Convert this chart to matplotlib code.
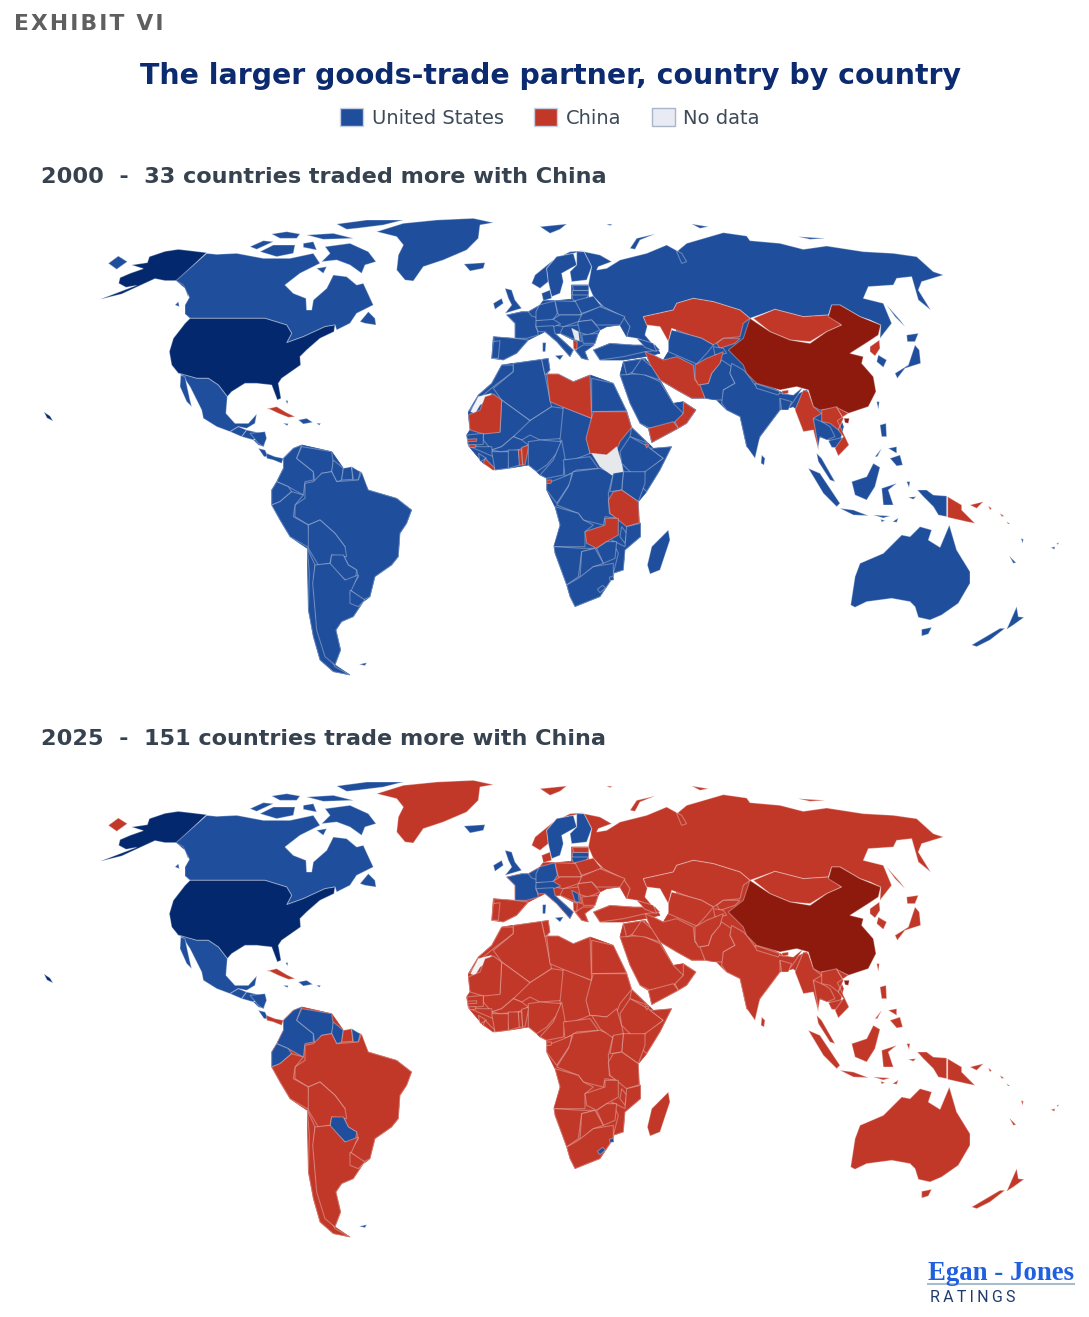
import matplotlib
matplotlib.use("Agg")
import matplotlib.pyplot as plt
from matplotlib.colors import to_rgba
from matplotlib.patches import Patch

# colours
BLUE = "#1f4e9c"
RED = "#c13829"
NAVY = "#03286e"
DARK_RED = "#8e1a0e"
NO_DATA = "#e6e8ec"
SAHARA = "#f3f4f6"

YEARS = ["2000", "2025"]
SUBTITLES = ["2000  -  33 countries traded more with China",
             "2025  -  151 countries trade more with China"]
LEGEND_LABELS = ["United States", "China", "No data"]

HOME_US = ["usa", "alaska", "hawaii"]
HOME_CHINA = ["china", "hainan"]
NO_DATA_2000 = ["south_sudan", "kosovo"]
NO_LAND = ["western_sahara"]

# 2000: everybody not listed here traded more with the US
CHINA_2000 = ["cuba", "kazakhstan", "kyrgyzstan", "mongolia", "iran", "afghanistan",
              "yemen", "oman", "myanmar", "laos", "vietnam", "north_korea", "bhutan",
              "libya", "sudan", "mauritania", "tanzania", "zambia", "gambia",
              "guinea_bissau", "liberia", "togo", "benin", "eq_guinea", "djibouti",
              "albania", "png", "new_britain", "solomon"]
# 2025: everybody not listed here trades more with China
US_2025 = ["canada", "mexico", "guatemala", "honduras", "nicaragua", "costa_rica", "hispaniola",
           "bahamas", "iceland", "uk", "ireland", "france", "benelux", "germany",
           "austria", "italy", "sweden", "finland", "latvia", "lithuania", "kosovo",
           "colombia", "venezuela", "ecuador", "guyana", "french_guiana", "paraguay",
           "lesotho", "eswatini", "falkland"]
# the colour most of the land had that year, shows through between country outlines
MAIN_COLOUR = {"2000": BLUE, "2025": RED}


def crop(x0, y0, shapes):
    return {k: [(x0 + x / 3, y0 + y / 3) for x, y in v] for k, v in shapes.items()}


land_africa = crop(450, 350, {
    "land": [(55, 185), (85, 135), (125, 100), (155, 45), (190, 40), (275, 28), (295, 25), (300, 60),
             (290, 72), (325, 72), (370, 95), (420, 75), (490, 100), (530, 183), (545, 232), (595, 280),
             (610, 295), (665, 290), (630, 360), (590, 425), (565, 455), (568, 518), (572, 520), (572, 560),
             (525, 600), (520, 660), (490, 670), (490, 680), (450, 740), (375, 770), (360, 740), (350, 705),
             (315, 610), (312, 590), (330, 525), (315, 470), (290, 420), (290, 385), (270, 375), (260, 365),
             (235, 345), (175, 355), (135, 360), (100, 340), (55, 287), (50, 255), (60, 240), (55, 195)],
})
land_eurasia = crop(460, 210, {
    "europe": [(140, 315), (185, 305), (205, 305), (240, 285), (250, 272), (285, 272), (335, 268), (335, 225),
               (385, 225), (385, 260), (430, 290), (490, 320), (510, 350), (500, 380), (480, 345), (440, 350),
               (420, 360), (415, 370), (405, 400), (375, 425), (385, 450), (365, 445), (345, 420), (340, 390),
               (300, 370), (285, 370), (340, 420), (330, 440), (290, 395), (255, 365), (235, 375), (205, 390),
               (170, 430), (130, 450), (95, 445), (100, 380), (165, 385), (165, 340)],
    "asia": [(625, 425), (650, 360), (700, 300), (870, 325), (860, 490), (960, 545), (1000, 560), (1040, 540),
             (1060, 590), (1130, 595), (1150, 650), (1140, 690), (1110, 690), (1075, 680), (1060, 640),
             (1000, 590), (960, 600), (900, 680), (880, 720), (860, 710), (840, 620), (800, 600), (770, 570),
             (735, 565), (695, 565), (650, 540), (600, 510), (575, 475), (555, 425), (580, 435), (610, 450)],
    "arabia": [(480, 495), (490, 455), (555, 445), (575, 470), (600, 510), (640, 580), (670, 575), (708, 600),
               (680, 640), (655, 655), (575, 698), (565, 655), (540, 640), (510, 580)],
    "turkey": [(400, 420), (450, 400), (520, 405), (585, 405), (600, 430), (555, 440), (490, 450), (420, 450)],
})
land_south_america = crop(250, 430, {
    "land": [(100, 85), (130, 55), (155, 45), (245, 65), (280, 115), (330, 125), (355, 180), (440, 205),
             (485, 240), (470, 280), (450, 310), (445, 380), (425, 405), (375, 440), (360, 500), (340, 515),
             (310, 560), (275, 575), (258, 600), (272, 660), (255, 705), (300, 735), (250, 725), (210, 690),
             (190, 620), (175, 540), (172, 355), (120, 320), (90, 270), (65, 225), (65, 180), (80, 155), (100, 115)],
})
LAND = [land_africa, land_eurasia, land_south_america]

north_america = crop(90, 210, {
    "russia|chukotka": [(55, 160), (85, 138), (112, 155), (80, 178)],
    "alaska": [(350, 128), (300, 122), (265, 118), (225, 124), (178, 140), (172, 158), (125, 165),
               (160, 176), (120, 190), (90, 203), (86, 220), (108, 232), (140, 226), (30, 268),
               (95, 252), (195, 206), (225, 212), (258, 212), (285, 235), (295, 262), (292, 228), (262, 212)],
    "canada": [(350, 130), (258, 212), (280, 225), (298, 262), (285, 285), (285, 312), (300, 325),
               (525, 325), (590, 345), (605, 370), (590, 398), (640, 380), (705, 350), (735, 345),
               (740, 360), (780, 340), (800, 310), (850, 285), (820, 220), (800, 225), (770, 200),
               (730, 195), (710, 235), (670, 270), (665, 300), (650, 300), (648, 265), (610, 250),
               (585, 225), (630, 190), (690, 160), (670, 130), (600, 145), (520, 145), (440, 130), (380, 133)],
    "canada|baffin": [(705, 110), (780, 100), (835, 125), (858, 155), (825, 165), (815, 190),
                      (780, 165), (740, 150), (695, 155), (720, 130)],
    "canada|victoria": [(510, 125), (550, 105), (615, 105), (610, 130), (560, 140)],
    "canada|banks": [(480, 110), (520, 92), (550, 95), (500, 118)],
    "canada|ellesmere": [(740, 42), (830, 30), (940, 30), (880, 45), (800, 55), (770, 58)],
    "canada|devon": [(650, 75), (730, 70), (790, 85), (700, 88)],
    "canada|melville": [(545, 72), (590, 65), (630, 72), (620, 85), (570, 85)],
    "canada|somerset": [(640, 100), (670, 95), (680, 120), (640, 112)],
    "canada|south": [(680, 175), (710, 170), (700, 190)],
    "canada|vancouver": [(255, 285), (265, 275), (268, 290)],
    "canada|newfoundland": [(810, 335), (835, 305), (855, 325), (858, 345), (825, 340)],
    "greenland": [(860, 65), (940, 40), (1040, 30), (1150, 25), (1210, 38), (1170, 45), (1165, 85),
                  (1130, 120), (1060, 150), (1000, 170), (970, 213), (945, 210), (920, 180),
                  (925, 135), (940, 105), (920, 80)],
    "iceland": [(1122, 162), (1185, 158), (1180, 175), (1140, 183)],
    "usa": [(300, 325), (525, 325), (590, 345), (605, 370), (590, 398), (640, 380), (705, 350),
            (735, 345), (732, 365), (690, 385), (650, 420), (630, 440), (632, 465), (575, 505),
            (565, 520), (573, 565), (562, 570), (545, 525), (500, 520), (465, 520), (425, 545),
            (412, 560), (385, 525), (355, 505), (320, 505), (265, 490), (245, 465), (238, 425),
            (250, 385), (285, 340)],
    "mexico": [(268, 490), (320, 505), (355, 505), (385, 525), (412, 560), (408, 610), (435, 640),
               (475, 640), (500, 612), (495, 640), (470, 655), (445, 650), (420, 665), (380, 650),
               (340, 625), (335, 600), (300, 530), (280, 500)],
    "mexico|baja": [(272, 495), (285, 500), (300, 570), (305, 590), (290, 575), (270, 530)],
    "guatemala": [(420, 665), (445, 650), (470, 660), (455, 680)],
    "honduras": [(455, 680), (470, 660), (515, 670), (490, 690)],
    "nicaragua": [(490, 690), (525, 680), (522, 710), (505, 705)],
    "cuba": [(530, 597), (560, 590), (590, 608), (615, 620), (595, 622), (565, 610), (540, 598)],
    "hispaniola": [(625, 630), (650, 625), (668, 637), (640, 642)],
    "hispaniola|jamaica": [(580, 640), (595, 641), (592, 647)],
    "hispaniola|puerto_rico": [(680, 640), (692, 640), (688, 646)],
    "bahamas": [(587, 572), (594, 572), (592, 582)],
})

hawaii = {"hawaii": [(44, 412), (50, 416), (53, 421), (47, 418)]}

europe_asia = crop(460, 210, {
    "norway|svalbard": [(240, 50), (320, 42), (300, 58), (270, 70)],
    "russia|franz_josef": [(440, 42), (457, 43), (450, 47)],
    "russia|novaya": [(510, 115), (530, 85), (585, 72), (540, 90), (525, 118)],
    "russia|severnaya": [(695, 42), (745, 50), (720, 55)],
    "russia|siberian": [(1015, 80), (1095, 85), (1050, 88)],
    "russia|sakhalin": [(1280, 285), (1320, 330), (1335, 350), (1305, 320)],
    "russia": [(372, 125), (420, 135), (455, 155), (415, 170), (410, 180), (440, 175), (480, 150),
               (560, 130), (620, 105), (665, 130), (680, 155), (665, 160), (650, 125), (680, 100),
               (790, 68), (860, 78), (870, 92), (960, 100), (1030, 118), (1100, 108), (1210, 125),
               (1300, 130), (1370, 140), (1420, 185), (1450, 195), (1385, 215), (1375, 240),
               (1412, 300), (1375, 270), (1355, 200), (1310, 205), (1300, 225), (1225, 230),
               (1210, 265), (1270, 280), (1295, 340), (1260, 385), (1262, 345), (1230, 330),
               (1200, 320), (1140, 285), (1115, 285), (1105, 315), (1030, 320), (945, 298),
               (870, 325), (840, 300), (760, 275), (700, 265), (650, 280), (640, 300), (550, 320),
               (562, 348), (555, 375), (580, 405), (530, 385), (500, 380), (510, 350), (490, 320),
               (430, 290), (400, 260), (385, 225), (395, 170)],
    "norway": [(370, 122), (330, 125), (280, 150), (225, 195), (215, 220), (240, 235), (265, 215),
               (260, 175), (290, 140), (340, 130)],
    "sweden": [(340, 130), (290, 140), (260, 175), (265, 215), (275, 260), (300, 250), (310, 215),
               (305, 190), (350, 165)],
    "finland": [(350, 125), (372, 125), (395, 170), (380, 210), (335, 215), (330, 185), (350, 165)],
    "denmark": [(245, 250), (270, 240), (275, 265), (250, 272)],
    "uk": [(135, 235), (155, 240), (165, 270), (185, 295), (135, 310), (155, 285), (145, 265)],
    "ireland": [(100, 280), (125, 265), (130, 280), (105, 298)],
    "spain": [(100, 380), (165, 385), (205, 390), (170, 430), (130, 450), (100, 445), (105, 410)],
    "portugal": [(100, 395), (120, 392), (115, 445), (95, 445)],
    "france": [(140, 315), (185, 305), (207, 305), (232, 322), (228, 345), (235, 375), (200, 385), (165, 385), (165, 340)],
    "benelux": [(205, 305), (240, 285), (238, 325), (215, 318)],
    "germany": [(238, 285), (285, 272), (292, 310), (278, 332), (228, 332), (228, 305)],
    "poland": [(285, 272), (355, 275), (365, 315), (295, 315)],
    "estonia": [(335, 225), (385, 225), (385, 240), (340, 240)],
    "latvia": [(335, 240), (385, 240), (385, 255), (335, 255)],
    "lithuania": [(335, 255), (385, 255), (375, 272), (340, 272)],
    "belarus": [(345, 272), (400, 258), (425, 290), (365, 310)],
    "ukraine": [(360, 315), (420, 290), (495, 320), (480, 345), (410, 345), (395, 330), (355, 335)],
    "czech_hungary": [(275, 330), (300, 315), (365, 315), (355, 335), (310, 350), (285, 345)],
    "austria": [(228, 332), (280, 328), (302, 342), (270, 354), (228, 354)],
    "italy": [(228, 350), (280, 347), (285, 370), (340, 420), (330, 440), (290, 395), (255, 365), (235, 365)],
    "italy|sicily": [(285, 437), (310, 435), (300, 450)],
    "italy|sardinia": [(248, 398), (258, 398), (256, 425), (248, 425)],
    "romania": [(355, 335), (395, 330), (420, 360), (385, 375), (350, 365)],
    "bulgaria": [(365, 375), (415, 370), (405, 400), (370, 400)],
    "serbia": [(310, 350), (355, 345), (365, 395), (335, 385), (300, 370)],
    "kosovo": [(335, 355), (355, 365), (358, 392), (345, 388)],
    "greece": [(345, 420), (370, 405), (405, 405), (375, 425), (385, 450), (365, 445)],
    "albania": [(340, 390), (352, 395), (350, 420), (340, 415)],
    "turkey": [(400, 420), (450, 400), (520, 405), (585, 405), (600, 420), (555, 425), (490, 440), (420, 450)],
    "caucasus": [(530, 385), (580, 400), (590, 425), (555, 412)],
    "kazakhstan": [(550, 320), (640, 300), (650, 280), (700, 265), (760, 275), (840, 300), (870, 325),
                   (850, 340), (840, 380), (790, 385), (760, 405), (725, 385), (690, 375), (635, 355),
                   (625, 395), (600, 350), (560, 345)],
    "uzbekistan": [(635, 360), (690, 375), (725, 385), (760, 405), (740, 430), (710, 462), (660, 440),
                   (625, 425), (625, 395)],
    "kyrgyzstan": [(770, 400), (790, 385), (840, 385), (825, 400), (780, 415)],
    "tajikistan": [(760, 410), (790, 415), (800, 430), (765, 435)],
    "mongolia": [(880, 325), (945, 298), (1030, 320), (1105, 315), (1145, 345), (1100, 365),
                 (1050, 395), (990, 390), (930, 365)],
    "north_korea": [(1230, 410), (1258, 390), (1260, 415), (1245, 438), (1230, 425)],
    "south_korea": [(1255, 435), (1280, 450), (1270, 472), (1250, 455)],
    "japan": [(1305, 490), (1345, 465), (1365, 405), (1378, 420), (1382, 460), (1335, 475), (1312, 505)],
    "japan|hokkaido": [(1340, 375), (1375, 370), (1365, 395), (1342, 395)],
    "taiwan": [(1250, 575), (1258, 575), (1255, 598)],
    "pakistan": [(735, 565), (715, 525), (745, 520), (755, 490), (785, 450), (815, 470), (810, 490),
                 (825, 520), (790, 540), (790, 570), (760, 570)],
    "india": [(815, 460), (850, 480), (860, 490), (885, 525), (960, 550), (1000, 555), (1030, 530),
              (1000, 575), (980, 600), (960, 565), (960, 600), (900, 680), (885, 745), (860, 710),
              (840, 620), (800, 600), (785, 580), (790, 540), (825, 520), (810, 490)],
    "nepal": [(885, 520), (960, 545), (955, 555), (890, 535)],
    "bangladesh": [(960, 565), (995, 575), (985, 600), (965, 600)],
    "sri_lanka": [(905, 735), (915, 745), (912, 765), (903, 760)],
    "china": [(805, 420), (850, 385), (870, 325), (930, 365), (990, 390), (1050, 400), (1100, 365),
              (1145, 345), (1105, 320), (1115, 285), (1140, 285), (1200, 320), (1262, 345), (1255, 375),
              (1225, 395), (1170, 430), (1210, 440), (1205, 460), (1240, 500), (1248, 545), (1225, 590),
              (1165, 610), (1130, 595), (1080, 600), (1060, 590), (1045, 540), (1010, 530), (960, 540),
              (890, 520), (860, 490), (850, 465)],
    "hainan": [(1152, 625), (1168, 625), (1165, 640), (1155, 638)],
    "bhutan": [(965, 543), (985, 540), (985, 550), (968, 552)],
    "iran": [(555, 425), (580, 435), (610, 450), (650, 440), (700, 465), (705, 510), (720, 525),
             (735, 565), (695, 565), (650, 540), (600, 510), (575, 475)],
    "afghanistan": [(705, 465), (740, 445), (790, 425), (780, 460), (755, 490), (745, 520), (715, 525), (705, 505)],
    "myanmar": [(1030, 540), (1045, 545), (1060, 590), (1085, 610), (1060, 625), (1075, 680),
                (1075, 720), (1060, 660), (1030, 665), (1005, 600)],
    "thailand": [(1060, 625), (1085, 635), (1110, 650), (1125, 680), (1100, 690), (1080, 680), (1075, 710)],
    "laos": [(1085, 600), (1130, 590), (1150, 625), (1135, 660), (1110, 640), (1085, 635)],
    "cambodia": [(1105, 692), (1150, 682), (1145, 715), (1115, 712)],
    "vietnam": [(1130, 592), (1165, 610), (1132, 632), (1167, 705), (1135, 738), (1125, 715), (1150, 680), (1135, 660), (1150, 625)],
    "saudi": [(480, 495), (545, 490), (600, 515), (640, 580), (670, 610), (660, 625), (640, 640),
              (570, 655), (540, 640), (510, 580)],
    "syria": [(490, 455), (555, 445), (540, 475), (500, 495)],
    "iraq": [(545, 445), (575, 470), (600, 510), (555, 495), (515, 490)],
    "yemen": [(565, 655), (640, 635), (655, 655), (575, 698)],
    "oman": [(670, 575), (708, 600), (680, 640), (655, 655), (645, 635), (670, 610)],
})

africa = crop(450, 350, {
    "morocco": [(55, 185), (85, 135), (125, 100), (155, 45), (190, 45), (190, 65), (130, 110), (100, 135)],
    "western_sahara": [(62, 185), (85, 140), (125, 130), (105, 155), (90, 165), (75, 190)],
    "algeria": [(190, 40), (275, 28), (285, 75), (300, 150), (305, 170), (240, 212), (155, 150), (130, 115), (190, 65)],
    "tunisia": [(275, 28), (295, 25), (300, 60), (285, 75)],
    "egypt": [(425, 85), (490, 100), (530, 183), (425, 185)],
    "mali": [(100, 250), (150, 245), (155, 150), (240, 212), (240, 240), (190, 260), (155, 290), (125, 300), (100, 270)],
    "niger": [(240, 212), (305, 170), (340, 175), (340, 265), (270, 270), (240, 255), (215, 270), (190, 260)],
    "chad": [(340, 170), (425, 205), (420, 235), (410, 265), (420, 310), (370, 330), (340, 330), (330, 270)],
    "libya": [(290, 72), (325, 72), (370, 95), (420, 75), (425, 205), (340, 172), (300, 155)],
    "mauritania": [(55, 195), (90, 180), (105, 140), (130, 132), (155, 150), (150, 247), (100, 252), (60, 240)],
    "sudan": [(430, 185), (530, 185), (545, 232), (510, 275), (500, 300), (470, 315), (420, 310), (408, 265), (420, 220)],
    "senegal": [(50, 255), (100, 250), (100, 283), (55, 287)],
    "gambia": [(52, 268), (80, 266), (80, 274), (52, 275)],
    "guinea": [(60, 290), (125, 290), (130, 320), (95, 305)],
    "guinea_bissau": [(55, 284), (78, 284), (76, 292), (60, 293)],
    "sierra_leone": [(85, 310), (110, 325), (90, 335)],
    "liberia": [(105, 325), (135, 355), (130, 362), (100, 340)],
    "ivory_coast": [(125, 305), (180, 305), (175, 355), (135, 360)],
    "burkina": [(125, 300), (155, 290), (190, 260), (215, 270), (235, 285), (205, 300), (150, 305)],
    "ghana": [(175, 300), (205, 300), (210, 345), (175, 355)],
    "togo": [(205, 300), (215, 300), (218, 345), (208, 345)],
    "benin": [(215, 292), (237, 285), (225, 345), (218, 345)],
    "nigeria": [(235, 275), (270, 270), (335, 275), (320, 310), (290, 345), (260, 365), (235, 345)],
    "cameroon": [(335, 270), (345, 325), (340, 375), (290, 385), (270, 375), (310, 330)],
    "car": [(340, 330), (420, 320), (445, 355), (380, 360), (345, 380)],
    "congo": [(290, 400), (330, 385), (365, 370), (360, 400), (320, 460), (290, 420)],
    "eq_guinea": [(290, 390), (305, 390), (303, 400), (290, 400)],
    "drc": [(370, 365), (450, 355), (490, 370), (475, 430), (478, 490), (505, 505), (465, 500), (460, 525),
            (400, 510), (385, 490), (320, 465), (355, 410)],
    "south_sudan": [(425, 310), (470, 315), (500, 290), (515, 340), (520, 365), (485, 375), (450, 350)],
    "eritrea": [(545, 232), (595, 280), (540, 260)],
    "ethiopia": [(540, 260), (595, 290), (640, 325), (590, 365), (550, 375), (515, 340), (510, 305)],
    "djibouti": [(585, 282), (597, 284), (590, 294)],
    "somalia": [(665, 290), (630, 360), (590, 425), (575, 410), (585, 365), (640, 325), (600, 295)],
    "kenya": [(520, 365), (585, 365), (585, 400), (565, 455), (515, 420)],
    "uganda": [(490, 370), (520, 365), (515, 420), (480, 425)],
    "tanzania": [(490, 425), (515, 420), (565, 455), (568, 518), (530, 530), (480, 490), (475, 450)],
    "angola": [(315, 470), (385, 490), (400, 510), (430, 525), (405, 545), (405, 590), (360, 590), (310, 590), (330, 525)],
    "zambia": [(405, 545), (465, 525), (465, 505), (505, 505), (505, 555), (470, 575), (440, 595), (410, 580)],
    "malawi": [(515, 530), (530, 550), (525, 580), (510, 560)],
    "mozambique": [(530, 530), (572, 520), (572, 560), (525, 600), (520, 660), (490, 670), (505, 610), (485, 570), (525, 590)],
    "zimbabwe": [(440, 595), (470, 575), (500, 575), (495, 625), (460, 640)],
    "namibia": [(312, 590), (395, 595), (435, 595), (395, 605), (385, 680), (350, 705), (315, 610)],
    "botswana": [(395, 605), (435, 595), (460, 640), (430, 650), (390, 685)],
    "south_africa": [(350, 705), (385, 685), (430, 650), (490, 640), (490, 680), (450, 740), (375, 770), (360, 740)],
    "lesotho": [(442, 718), (458, 706), (466, 714), (450, 728)],
    "eswatini": [(478, 682), (490, 678), (492, 690), (480, 692)],
    "madagascar": [(655, 540), (660, 570), (630, 660), (600, 672), (592, 645), (605, 590)],
})

south_america = crop(250, 430, {
    "guatemala|belize": [(0, 10), (45, 5), (50, 25), (40, 50), (25, 40)],
    "costa_rica": [(25, 55), (45, 60), (55, 80), (42, 80)],
    "panama": [(50, 70), (75, 80), (100, 85), (95, 100), (70, 90), (50, 85)],
    "colombia": [(100, 85), (130, 55), (155, 45), (140, 85), (190, 125), (190, 150), (165, 155),
                 (160, 195), (115, 170), (80, 155), (100, 115)],
    "venezuela": [(155, 50), (245, 65), (250, 100), (245, 125), (215, 130), (195, 160), (190, 125), (140, 85)],
    "guyana": [(250, 90), (280, 115), (275, 150), (260, 155), (245, 125)],
    "suriname": [(280, 115), (305, 110), (308, 148), (275, 150)],
    "french_guiana": [(305, 110), (330, 125), (325, 150), (310, 150)],
    "brazil": [(190, 155), (215, 130), (245, 125), (260, 155), (325, 150), (335, 125), (355, 180),
               (440, 205), (485, 240), (470, 280), (450, 310), (445, 380), (425, 405), (375, 440),
               (360, 500), (340, 510), (300, 480), (325, 440), (320, 420), (295, 405), (280, 375),
               (285, 350), (255, 310), (210, 270), (175, 285), (135, 260), (135, 225), (165, 205), (165, 160)],
    "ecuador": [(80, 155), (115, 170), (125, 185), (90, 215), (65, 225), (65, 180)],
    "peru": [(65, 225), (90, 215), (125, 185), (160, 195), (135, 225), (130, 260), (175, 285), (180, 355), (120, 320), (90, 270)],
    "bolivia": [(175, 285), (210, 270), (255, 310), (285, 350), (290, 380), (245, 375), (240, 400), (205, 405), (175, 355)],
    "paraguay": [(245, 375), (280, 375), (295, 405), (320, 420), (315, 455), (285, 450), (240, 405)],
    "chile": [(172, 355), (195, 405), (190, 460), (198, 560), (218, 640), (255, 710), (300, 735),
              (250, 725), (210, 690), (190, 620), (175, 540), (178, 430)],
    "argentina": [(195, 405), (240, 400), (285, 450), (325, 435), (300, 490), (340, 515), (310, 560),
                  (275, 575), (258, 600), (272, 660), (255, 705), (225, 680), (200, 600), (195, 540), (188, 460)],
    "uruguay": [(300, 480), (345, 510), (325, 530), (300, 520)],
    "falkland": [(328, 703), (350, 698), (345, 707)],
})

oceania = crop(720, 380, {
    "malaysia": [(290, 220), (305, 235), (345, 305), (330, 300), (295, 245)],
    "indonesia|sumatra": [(265, 265), (300, 280), (360, 370), (350, 380), (310, 340)],
    "indonesia|java": [(360, 385), (400, 390), (445, 407), (400, 405)],
    "indonesia|borneo": [(395, 305), (440, 290), (460, 250), (480, 262), (465, 320), (440, 360), (405, 345)],
    "indonesia|sulawesi": [(485, 325), (530, 310), (505, 330), (520, 375), (490, 375)],
    "indonesia|halmahera": [(560, 305), (570, 305), (567, 322)],
    "indonesia|seram": [(565, 352), (588, 350), (580, 358)],
    "indonesia|sunda": [(460, 405), (510, 408), (490, 414)],
    "indonesia|flores": [(482, 418), (495, 422), (485, 426)],
    "indonesia|timor": [(518, 425), (535, 414), (530, 427)],
    "indonesia|papua": [(592, 330), (620, 330), (640, 345), (680, 348), (680, 410), (655, 405), (640, 380), (610, 350)],
    "png": [(683, 350), (725, 375), (725, 390), (765, 430), (740, 425), (683, 412)],
    "new_britain": [(750, 375), (790, 365), (770, 385)],
    "solomon": [(805, 378), (815, 385), (810, 390)],
    "solomon|2": [(840, 400), (852, 408), (845, 410)],
    "solomon|3": [(860, 425), (870, 432), (864, 432)],
    "philippines|luzon": [(480, 135), (498, 130), (500, 170), (485, 170)],
    "philippines|mindanao": [(510, 235), (540, 225), (548, 255), (530, 258)],
    "philippines|visayas": [(505, 205), (530, 200), (530, 220)],
    "philippines|palawan": [(465, 230), (485, 205), (472, 230)],
    "australia": [(392, 675), (405, 590), (420, 550), (490, 520), (545, 465), (570, 470), (600, 440),
                  (635, 450), (625, 480), (660, 502), (688, 435), (710, 510), (750, 575), (750, 610),
                  (715, 670), (665, 705), (630, 720), (595, 712), (585, 680), (570, 665), (515, 655),
                  (440, 665), (405, 682)],
    "australia|tasmania": [(605, 748), (635, 742), (625, 762), (605, 768)],
    "nz|north": [(860, 748), (890, 680), (895, 710), (912, 712), (880, 735)],
    "nz|south": [(755, 795), (840, 745), (855, 745), (810, 780), (770, 800)],
    "new_caledonia": [(868, 528), (888, 548), (880, 550)],
    "vanuatu": [(903, 475), (910, 478), (908, 490)],
    "fiji": [(993, 503), (1005, 500), (1003, 508)],
    "samoa": [(1010, 490), (1017, 488), (1013, 494)],
})

REGIONS = [north_america, hawaii, europe_asia, africa, south_america, oceania]


def colour_for(name, year):
    name = name.split("|")[0]
    if name in HOME_US:
        return NAVY
    if name in HOME_CHINA:
        return DARK_RED
    if name in NO_LAND:
        return SAHARA
    if year == "2000":
        if name in NO_DATA_2000:
            return NO_DATA
        return RED if name in CHINA_2000 else BLUE
    return BLUE if name in US_2025 else RED


W, H = 1089, 1317
fig = plt.figure(figsize=(W / 100, H / 100), dpi=100, facecolor="white")
plt.rcParams["font.family"] = ["DejaVu Sans"]

panel_tops = [200, 762]
for year, sub, top in zip(YEARS, SUBTITLES, panel_tops):
    ax = fig.add_axes([0, 1 - (top + 500) / H, 1, 500 / H])
    ax.set_xlim(0, W)
    ax.set_ylim(700, 200)
    ax.axis("off")
    for region in LAND:
        for pts in region.values():
            ax.fill([p[0] for p in pts], [p[1] for p in pts], facecolor=MAIN_COLOUR[year],
                    edgecolor=MAIN_COLOUR[year], linewidth=0.5)
    for region in REGIONS:
        for name, pts in region.items():
            xs = [p[0] for p in pts]
            ys = [p[1] for p in pts]
            ax.fill(xs, ys, facecolor=colour_for(name, year),
                    edgecolor=to_rgba("white", 0.3), linewidth=0.8)
    fig.text(41 / W, 1 - (top - 23) / H, sub, fontsize=16.1, fontweight="bold",
             color="#36424f", va="center", ha="left")

fig.text(14 / W, 1 - 24 / H, "E\u200aX\u200aH\u200aI\u200aB\u200aI\u200aT\u2009 V\u200aI",
         fontsize=15.7, fontweight="bold", color="#5f5f5f", va="center", ha="left")
fig.text(550 / W, 1 - 76 / H, "The larger goods-trade partner, country by country",
         fontsize=20.4, fontweight="bold", color="#0b2a6f", va="center", ha="center")

handles = [Patch(facecolor=BLUE, edgecolor="#c5cfdf", label=LEGEND_LABELS[0]),
           Patch(facecolor=RED, edgecolor="#c5cfdf", label=LEGEND_LABELS[1]),
           Patch(facecolor="#e8ebf3", edgecolor="#aab6c8", label=LEGEND_LABELS[2])]
fig.legend(handles=handles, ncol=3, loc="center", bbox_to_anchor=(550 / W, 1 - 118 / H),
           frameon=False, fontsize=14, labelcolor="#3d4a59", handlelength=1.18, handleheight=1.0,
           columnspacing=1.55, handletextpad=0.46)

# logo
fig.text(1001 / W, 1 - 1273 / H, "Egan - Jones", family="Liberation Serif", fontsize=19.3,
         fontweight="bold", color="#1f5fe0", va="center", ha="center")
fig.add_artist(plt.Line2D([928 / W, 1074 / W], [1 - 1284 / H] * 2, color="#a9bccd", lw=1.5))
fig.text(930 / W, 1 - 1297 / H, "R\u2009A\u2009T\u2009I\u2009N\u2009G\u2009S", family="Roboto", fontsize=11.5,
         color="#1e3a6e", va="center", ha="left")

fig.savefig("out.png", dpi=100, facecolor="white")
